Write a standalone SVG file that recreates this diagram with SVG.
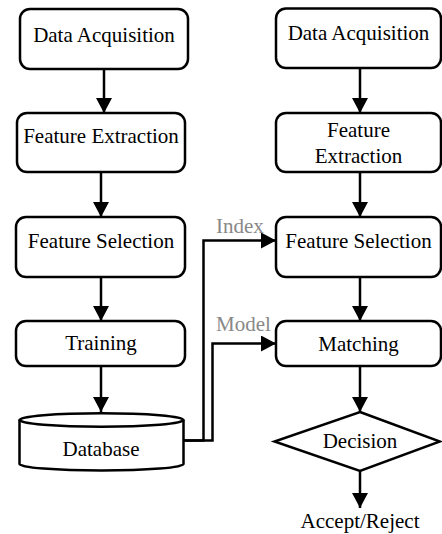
<svg xmlns="http://www.w3.org/2000/svg" width="442" height="534" viewBox="0 0 442 534">
<defs>
<marker id="ah" markerWidth="16" markerHeight="16" viewBox="0 0 16 16" refX="15" refY="8" orient="auto" markerUnits="userSpaceOnUse">
<path d="M0,0 L15,8 L0,16 Z" fill="#000"/>
</marker>
<style>
.box{fill:#fff;stroke:#000;stroke-width:2.5}
.t{font-family:'Liberation Serif', Tinos, 'Times New Roman', 'DejaVu Serif', serif;font-size:21px;fill:#000;text-anchor:middle}
.lbl{font-family:'Liberation Serif', Tinos, 'Times New Roman', 'DejaVu Serif', serif;font-size:21px;fill:#888;text-anchor:start}
.c{fill:none;stroke:#000;stroke-width:2.5;marker-end:url(#ah)}
</style>
</defs>
<rect width="442" height="534" fill="#fff"/>
<g id="connectors">
<path class="c" d="M104,69 V113"/>
<path class="c" d="M101,172 V217"/>
<path class="c" d="M101,277 V321"/>
<path class="c" d="M101,366 V412"/>
<path class="c" d="M360,68 V113"/>
<path class="c" d="M360,172 V217"/>
<path class="c" d="M360,277 V321"/>
<path class="c" d="M360,366 V412"/>
<path class="c" d="M360,471 V508"/>
<path class="c" d="M183,440.5 H203.5 V240.5 H276"/>
<path class="c" d="M183,440.5 H212.5 V343.5 H276"/>
</g>
<g id="n_acq_l"><rect class="box" x="20" y="9" width="168" height="60" rx="10"/><text class="t" x="104" y="42">Data Acquisition</text></g>
<g id="n_fe_l"><rect class="box" x="17" y="113" width="168" height="59" rx="10"/><text class="t" x="101" y="143">Feature Extraction</text></g>
<g id="n_fs_l"><rect class="box" x="16" y="217" width="169" height="60" rx="10"/><text class="t" x="101" y="248">Feature Selection</text></g>
<g id="n_train"><rect class="box" x="16" y="321" width="169" height="45" rx="10"/><text class="t" x="101" y="350">Training</text></g>
<g id="n_db">
<path class="box" d="M19.5,420 V464 A82,6.5 0 0 0 183.5,464 V420"/>
<ellipse class="box" cx="101.5" cy="420" rx="82" ry="6.7"/>
<text class="t" x="101" y="456">Database</text>
</g>
<g id="n_acq_r"><rect class="box" x="276" y="8.5" width="165" height="59.5" rx="10"/><text class="t" x="358.5" y="40">Data Acquisition</text></g>
<g id="n_fe_r"><rect class="box" x="276" y="113" width="165" height="59" rx="10"/><text class="t" x="358.5" y="137">Feature</text><text class="t" x="358.5" y="163">Extraction</text></g>
<g id="n_fs_r"><rect class="box" x="276" y="217" width="165" height="60" rx="10"/><text class="t" x="358.5" y="248">Feature Selection</text></g>
<g id="n_match"><rect class="box" x="276" y="321" width="165" height="45" rx="10"/><text class="t" x="358.5" y="351">Matching</text></g>
<g id="n_dec"><polygon class="box" points="360,412 440,441.5 360,471 274.5,441.5"/><text class="t" x="360" y="448">Decision</text></g>
<g id="n_out"><text class="t" x="360" y="528">Accept/Reject</text></g>
<g id="labels"><text class="lbl" x="216" y="233">Index</text><text class="lbl" x="216" y="331">Model</text></g>
</svg>
